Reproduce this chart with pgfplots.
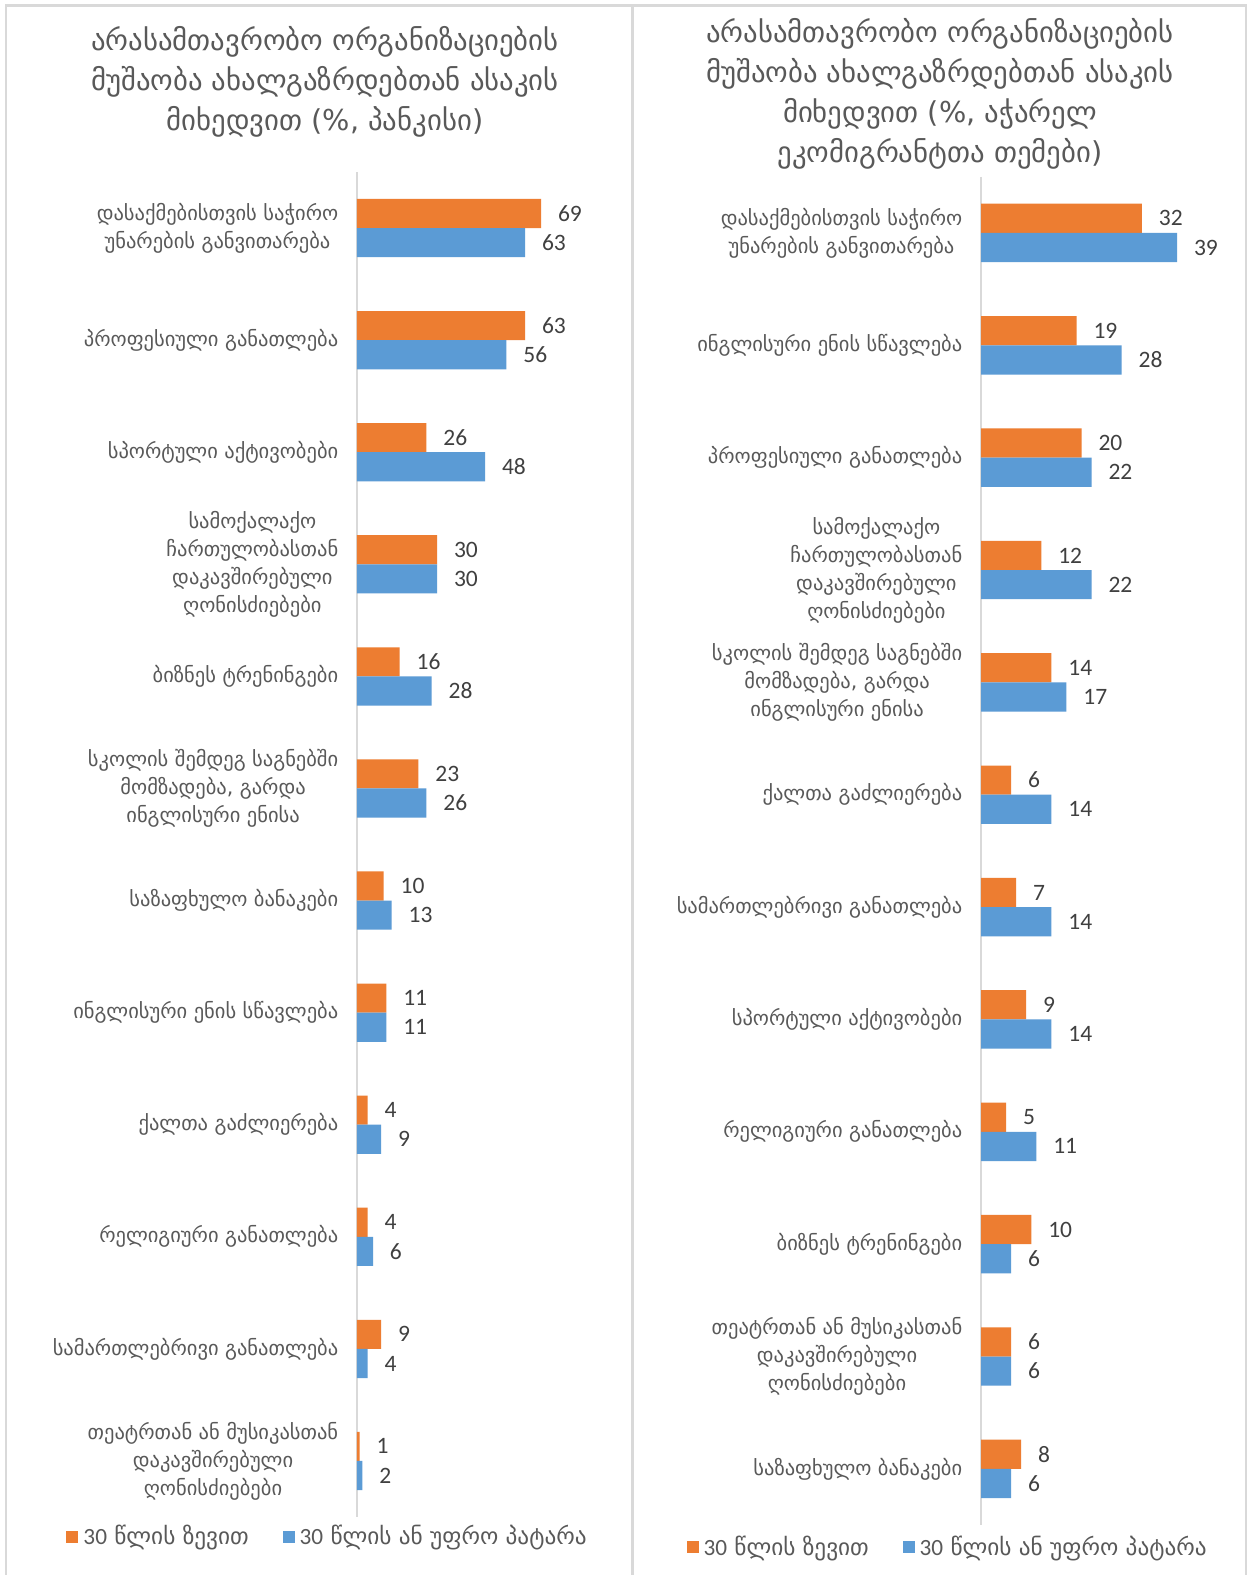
\documentclass[border=0pt]{standalone}
\usepackage{fontspec}
\setmainfont{DejaVu Sans}
\newfontfamily\numfont{Carlito}
\usepackage{pgfplots}
\pgfplotsset{compat=1.18}
\usepackage{pgfplotstable}
\definecolor{ora}{HTML}{ED7D31}
\definecolor{blu}{HTML}{5B9BD5}
\definecolor{txt}{HTML}{595959}
\definecolor{num}{HTML}{404040}
\definecolor{frm}{HTML}{D9D9D9}

\pgfplotstableread{
y o b
0 69 63
1 63 56
2 26 48
3 30 30
4 16 28
5 23 26
6 10 13
7 11 11
8 4 9
9 4 6
10 9 4
11 1 2
}\lefttab
\pgfplotstableread{
y o b
0 32 39
1 19 28
2 20 22
3 12 22
4 14 17
5 6 14
6 7 14
7 9 14
8 5 11
9 10 6
10 6 6
11 8 6
}\righttab

\pgfplotsset{mybars/.style={
  xbar, bar shift=0pt, bar width=0.26, scale only axis, clip=false,
  y dir=reverse, ymin=-0.5, ymax=11.5, xmin=0,
  axis x line=none, axis y line=left,
  y axis line style={-, draw=frm, line width=0.8pt},
  ytick={0,...,11}, major tick length=0pt, ytick style={draw=none},
  yticklabel style={align=center, font=\fontsize{8.2}{11.2}\selectfont, text=txt, inner sep=0pt, xshift=-7.3pt},
  /pgf/number format/assume math mode=true,
  point meta=x,
  nodes near coords,
  every node near coord/.append style={anchor=west, inner sep=0pt, xshift=6.6pt, font=\numfont\fontsize{9.4}{10}\selectfont, text=num},
  legend style={draw=none, fill=none, legend columns=2, anchor=west, inner sep=0pt,
    font=\fontsize{9.3}{11}\selectfont, text=txt,
    /tikz/every even column/.append style={column sep=11.5pt}},
  legend cell align=left,
  legend image code/.code={\fill[##1] (0pt,-2.4pt) rectangle (4.8pt,2.4pt);},
}}

\begin{document}
\begin{tikzpicture}
\useasboundingbox (0,0) rectangle (499.6pt,-630pt);
\fill[white] (0,0) rectangle (499.6pt,-630pt);
% panel frames
\draw[frm, line width=1pt] (2pt,-2.2pt) -- (498.8pt,-2.2pt);
\draw[frm, line width=1pt] (2.4pt,-2pt) -- (2.4pt,-630pt);
\draw[frm, line width=1.2pt] (252.8pt,-2pt) -- (252.8pt,-630pt);
\draw[frm, line width=1pt] (498.4pt,-2pt) -- (498.4pt,-630pt);

% titles
\node[align=center, text=txt, font=\fontsize{11.5}{16}\selectfont] at (130pt,-32.6pt)
  {არასამთავრობო ორგანიზაციების\\მუშაობა ახალგაზრდებთან ასაკის\\მიხედვით (\%, პანკისი)};
\node[align=center, text=txt, font=\fontsize{11.5}{16}\selectfont] at (376pt,-37.4pt)
  {არასამთავრობო ორგანიზაციების\\მუშაობა ახალგაზრდებთან ასაკის\\მიხედვით (\%, აჭარელ\\ეკომიგრანტთა თემები)};

\begin{axis}[mybars,
  at={(142.8pt,-68.8pt)}, anchor=north west,
  width=88pt, height=538pt, xmax=82.5,
  yticklabels={{დასაქმებისთვის საჭირო\\უნარების განვითარება},
    {პროფესიული განათლება},
    {სპორტული აქტივობები},
    {სამოქალაქო\\ჩართულობასთან\\დაკავშირებული\\ღონისძიებები},
    {ბიზნეს ტრენინგები},
    {სკოლის შემდეგ საგნებში\\მომზადება, გარდა\\ინგლისური ენისა},
    {საზაფხულო ბანაკები},
    {ინგლისური ენის სწავლება},
    {ქალთა გაძლიერება},
    {რელიგიური განათლება},
    {სამართლებრივი განათლება},
    {თეატრთან ან მუსიკასთან\\დაკავშირებული\\ღონისძიებები}},
  legend style={at={(-1.3227,-0.0149)}},
]
\addplot[fill=ora, draw=none] table[x=o, y expr=\thisrow{y}-0.13] {\lefttab};
\addlegendentry{{\numfont 30} წლის ზევით}
\addplot[fill=blu, draw=none] table[x=b, y expr=\thisrow{y}+0.13] {\lefttab};
\addlegendentry{{\numfont 30} წლის ან უფრო პატარა}
\end{axis}

\begin{axis}[mybars,
  at={(392.4pt,-70.7pt)}, anchor=north west,
  width=96pt, height=539.3pt, xmax=47.75,
  yticklabels={{დასაქმებისთვის საჭირო\\უნარების განვითარება},
    {ინგლისური ენის სწავლება},
    {პროფესიული განათლება},
    {სამოქალაქო\\ჩართულობასთან\\დაკავშირებული\\ღონისძიებები},
    {სკოლის შემდეგ საგნებში\\მომზადება, გარდა\\ინგლისური ენისა},
    {ქალთა გაძლიერება},
    {სამართლებრივი განათლება},
    {სპორტული აქტივობები},
    {რელიგიური განათლება},
    {ბიზნეს ტრენინგები},
    {თეატრთან ან მუსიკასთან\\დაკავშირებული\\ღონისძიებები},
    {საზაფხულო ბანაკები}},
  legend style={at={(-1.229,-0.0165)}},
]
\addplot[fill=ora, draw=none] table[x=o, y expr=\thisrow{y}-0.13] {\righttab};
\addlegendentry{{\numfont 30} წლის ზევით}
\addplot[fill=blu, draw=none] table[x=b, y expr=\thisrow{y}+0.13] {\righttab};
\addlegendentry{{\numfont 30} წლის ან უფრო პატარა}
\end{axis}
\end{tikzpicture}
\end{document}
